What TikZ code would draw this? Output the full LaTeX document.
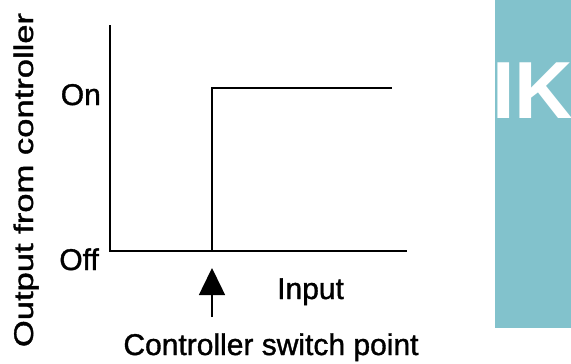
\documentclass[tikz,border=0pt]{standalone}
\usepackage{fontspec}
\setmainfont{Liberation Sans}
\newfontfamily\scanfont{Liberation Sans}[FakeBold=1.2]
\usepackage{tikz}
\usetikzlibrary{arrows.meta,positioning}
\definecolor{teal}{RGB}{130,194,204}
\tikzset{
  axisline/.style={draw=black, line width=2.8pt, line join=miter},
  lbl/.style={font=\scanfont\fontsize{30}{36}\selectfont, inner sep=0pt},
  pointer/.style={draw=black, line width=1.5pt, -{Triangle[length=27pt,width=26pt]}}
}
\begin{document}
\begin{tikzpicture}[x=1pt, y=-1pt]
    \useasboundingbox (0,0) rectangle (571,364);
    % side panel
    \begin{scope}
      \clip (495,0) rectangle (571,328);
      \fill[teal] (495,0) rectangle (571,328);
      \node[anchor=base west, inner sep=0pt, text=white, font=\fontsize{81}{90}\selectfont\bfseries] (ik) at (492,118) {IK};
    \end{scope}

    \coordinate (ytop) at (110,25);
    \coordinate (origin) at (110,251);
    \coordinate (xend) at (407,251);
    \coordinate (swlow) at (212,251);
    \coordinate (swhigh) at (212,88);
    \coordinate (onend) at (392,88);
    \coordinate (tail) at (212,317);
    \coordinate (tip) at (212,268);

    \draw[axisline] (ytop) -- (origin) -- (xend);
    \draw[axisline] (swlow) -- (swhigh) -- (onend);
    \draw[pointer] (tail) -- (tip);

    \node[lbl, anchor=base east] (on) at (101,105) {On};
    \node[lbl, anchor=base east] (off) at (99,270) {Off};
    \node[lbl, anchor=base west] (input) at (277,299) {Input};
    \node[lbl, anchor=base] (switch) at (271,355) {Controller switch point};
    \node[inner sep=0pt, anchor=base, rotate=90, font=\scanfont\fontsize{27}{32}\selectfont] (ylabel) at (33,180) {\scalebox{1.28}[1]{Output from controller}};
  \end{tikzpicture}
\end{document}
